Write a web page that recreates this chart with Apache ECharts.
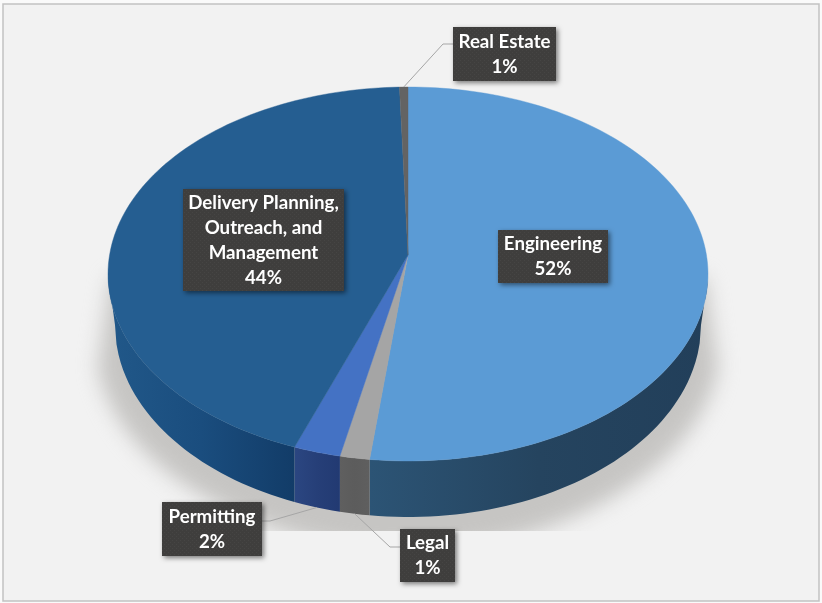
<!DOCTYPE html>
<html><head><meta charset="utf-8">
<style>html,body{margin:0;padding:0;background:#fff}#c{width:822px;height:603px}</style>
<script src="https://cdn.jsdelivr.net/npm/echarts@6/dist/echarts.min.js"></script>
</head><body><div id="c"></div>
<script>
// --- data (clockwise from 12 o'clock) ---
const categories = ['Engineering', 'Legal', 'Permitting', 'Delivery Planning,\nOutreach, and\nManagement', 'Real Estate'];
const shares = [51.85, 1.45, 2.3, 43.9, 0.5];

// --- styling and layout ---
const topColors = ['#5b9bd5', '#a5a5a5', '#4472c4', '#255e91', '#636363'];
const sideStops = [['#2c5475', '#25445f', '#223f5a'], ['#5f5f5f', '#5c5c5c', '#5f5f5f'], ['#2b4681', '#263f78', '#223a72'],
                   ['#215889', '#1a4d7e', '#123c68'], ['#444', '#444', '#444']];
const labelBoxes = [[498, 230, 110, 53], [400, 529, 55, 53], [162, 502, 100, 54], [183, 189, 161, 102], [453, 27, 103, 54]];
const leaderElbows = [null, [[400, 547], [390, 547]], [[262, 521], [270, 521]], null, [[453, 44], [443, 44]]];
const leaderOnBottomRim = [false, true, true, false, false];
const disc = { cx: 408, cy: 274, rx: 300, ry: 187, apexY: 255 };
const rim = { cy: 325, rx: 293, ry: 192 };
const K = 1.105;   // foreshortening: the near side of the disc looks larger

function visualAngle(deg) {           // true angle -> angle on the drawn ellipse, radians
  const phi = (deg - 180) * Math.PI / 180;
  return Math.PI + 2 * Math.atan2(K * Math.sin(phi / 2), Math.cos(phi / 2));
}
function discPoint(a) { return [disc.cx + disc.rx * Math.sin(a), disc.cy - disc.ry * Math.cos(a)]; }
function rimPoint(a) {
  const dx = Math.max(-rim.rx, Math.min(rim.rx, disc.rx * Math.sin(a)));
  return [disc.cx + dx, rim.cy + rim.ry * Math.sqrt(Math.max(0, 1 - dx * dx / (rim.rx * rim.rx)))];
}
const total = shares.reduce((a, b) => a + b, 0);
const bounds = []; let acc = 0;
shares.forEach(v => { const s = acc; acc += v; bounds.push([s / total * 360, acc / total * 360]); });

function arcAngles(a0, a1) {
  const out = [], n = Math.max(4, Math.ceil((a1 - a0) / 1.5));
  for (let i = 0; i <= n; i++) out.push(visualAngle(a0 + (a1 - a0) * i / n));
  return out;
}
const dots = document.createElement('canvas'); dots.width = 4; dots.height = 4;
(function () {
  const g = dots.getContext('2d');
  g.fillStyle = '#3f3e3d'; g.fillRect(0, 0, 4, 4);
  g.fillStyle = '#464544'; g.fillRect(0, 0, 1, 1); g.fillRect(2, 2, 1, 1);
})();

// soft floor shadow under the disc, cut off flat at its lower edge
const floorShadow = document.createElement('canvas'); floorShadow.width = 822; floorShadow.height = 603;
(function () {
  const g = floorShadow.getContext('2d');
  g.beginPath(); g.rect(0, 0, 822, 531); g.clip();
  g.filter = 'blur(10px)';
  g.fillStyle = '#c6c5c3';
  g.beginPath();
  g.moveTo(111, 278); g.lineTo(98, 368);
  g.bezierCurveTo(120, 480, 280, 552, 408, 552);
  g.bezierCurveTo(540, 552, 695, 480, 718, 368);
  g.lineTo(705, 278); g.closePath(); g.fill();
})();

function renderBackdrop() {
  return { type: 'image', style: { image: floorShadow, x: 0, y: 0, width: 822, height: 603 } };
}
function renderSide(params, api) {
  const i = params.dataIndex, b = bounds[i];
  const angs = arcAngles(b[0], b[1]).filter(a => a >= Math.PI / 2 && a <= 1.5 * Math.PI);
  if (angs.length < 2) return { type: 'group', children: [] };
  const pts = angs.map(discPoint).concat(angs.slice().reverse().map(rimPoint));
  const st = sideStops[i];
  return { type: 'polygon', shape: { points: pts }, style: {
    fill: new echarts.graphic.LinearGradient(0, 0, 1, 0, [{ offset: 0, color: st[0] }, { offset: 0.5, color: st[1] }, { offset: 1, color: st[2] }]),
    stroke: null } };
}
function renderTop(params, api) {
  const i = params.dataIndex, b = bounds[i];
  const pts = [[disc.cx, disc.apexY]].concat(arcAngles(b[0], b[1]).map(discPoint));
  return { type: 'polygon', shape: { points: pts }, style: { fill: topColors[i], stroke: topColors[i], lineWidth: 0.4 } };
}
function renderLabel(params, api) {
  const i = params.dataIndex, box = labelBoxes[i], b = bounds[i];
  const children = [];
  if (leaderElbows[i]) {
    const a = visualAngle((b[0] + b[1]) / 2);
    const anchor = leaderOnBottomRim[i] ? rimPoint(a) : discPoint(a);
    children.push({ type: 'polyline', shape: { points: leaderElbows[i].concat([anchor]) },
      style: { stroke: '#a6a6a6', lineWidth: 1, fill: null } });
  }
  children.push({ type: 'rect', shape: { x: box[0], y: box[1], width: box[2], height: box[3] },
    style: { fill: { image: dots, repeat: 'repeat' }, shadowColor: 'rgba(0,0,0,0.5)', shadowBlur: 5, shadowOffsetX: 2, shadowOffsetY: 2 } });
  children.push({ type: 'text', x: box[0] + box[2] / 2, y: box[1] + box[3] / 2, style: {
    text: categories[i] + '\n' + Math.round(api.value(1)) + '%', align: 'center', verticalAlign: 'middle',
    fill: '#ffffff', font: 'bold 18.7px Lato, "Open Sans", sans-serif', lineHeight: 25 } });
  return { type: 'group', children };
}
const seriesData = shares.map((v, i) => [i, v]);
const chart = echarts.init(document.getElementById('c'), null, { renderer: 'canvas' });
chart.setOption({
  animation: false,
  backgroundColor: '#fafafa',
  graphic: [
    { type: 'rect', z: 0, shape: { x: 3, y: 4, width: 816, height: 597 }, style: { fill: '#f2f2f2', stroke: '#c2c2c2', lineWidth: 1.5 } }
  ],
  series: [
    { type: 'custom', coordinateSystem: 'none', z: 1, renderItem: renderBackdrop, data: [[0]], silent: true },
    { type: 'custom', coordinateSystem: 'none', z: 2, renderItem: renderSide, data: seriesData, silent: true },
    { type: 'custom', coordinateSystem: 'none', z: 3, renderItem: renderTop, data: seriesData, silent: true },
    { type: 'custom', coordinateSystem: 'none', z: 4, renderItem: renderLabel, data: seriesData, silent: true }
  ]
});
</script></body></html>
